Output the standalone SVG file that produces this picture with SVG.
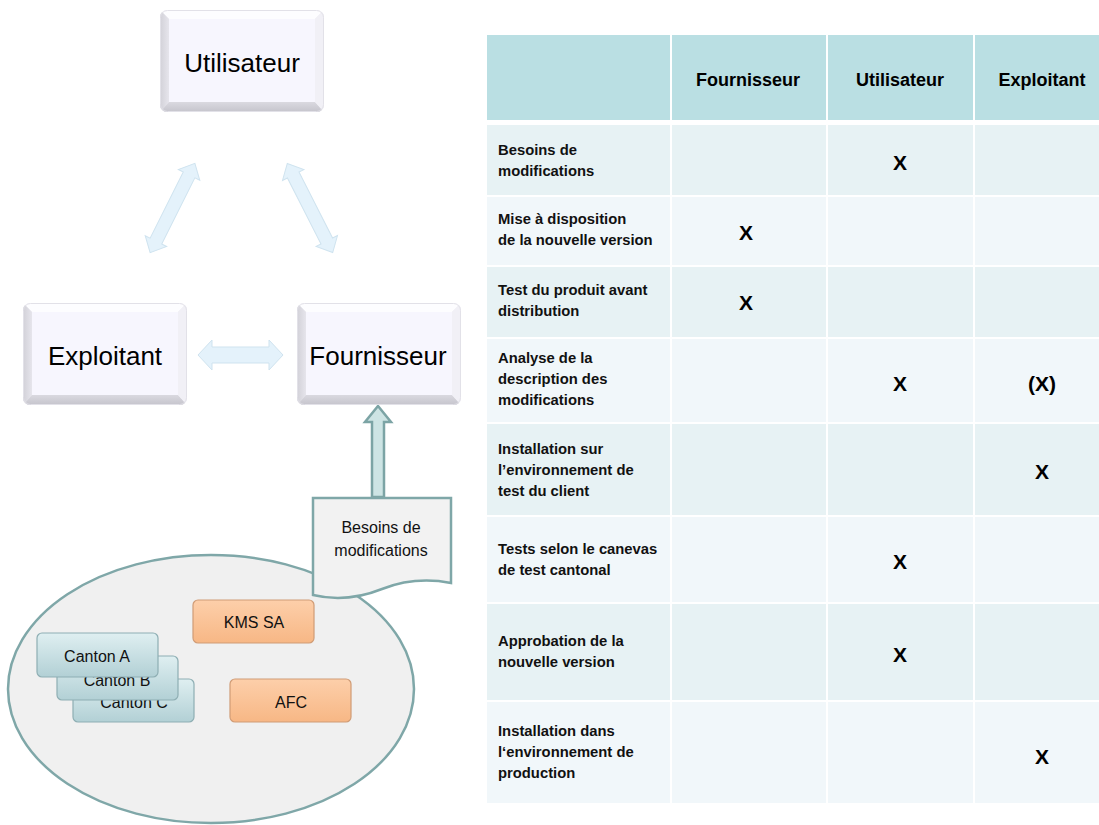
<svg xmlns="http://www.w3.org/2000/svg" xmlns:xlink="http://www.w3.org/1999/xlink" width="1099" height="825" viewBox="0 0 1099 825">
  <style>
    .node-label { font-family: "Liberation Sans", Arial, sans-serif; font-size: 26px; fill: #000; text-anchor: middle; }
    .small-label { font-family: "Liberation Sans", Arial, sans-serif; font-size: 16px; fill: #111; text-anchor: middle; }
    .head { font-family: "Liberation Sans", Arial, sans-serif; font-size: 18px; font-weight: bold; fill: #000; text-anchor: middle; }
    .row-label { font-family: "Liberation Sans", Arial, sans-serif; font-size: 14.8px; font-weight: bold; fill: #111; }
    .mark { font-family: "Liberation Sans", Arial, sans-serif; font-size: 21px; font-weight: bold; fill: #000; text-anchor: middle; }
    .hdr { fill: #BADFE3; }
    .dark { fill: #E7F2F4; }
    .light { fill: #F1F7FA; }
    .link { fill: #E4F2FB; stroke: #CFE3EF; stroke-width: 1; }
    .canton { fill: url(#gCanton); stroke: #8EAEB3; stroke-width: 1.2; }
    .org { fill: url(#gOrange); stroke: #D09C76; stroke-width: 1.2; }
  </style>
  <defs>
    <clipPath id="bevelClip"><rect width="164" height="102" rx="7"/></clipPath>
    <linearGradient id="gLeft" x1="0" y1="0" x2="1" y2="0">
      <stop offset="0" stop-color="#D2D1D8"/>
      <stop offset="1" stop-color="#E6E5EC"/>
    </linearGradient>
    <linearGradient id="gBottom" x1="0" y1="0" x2="0" y2="1">
      <stop offset="0" stop-color="#DAD9E0"/>
      <stop offset="1" stop-color="#C5C4CC"/>
    </linearGradient>
    <linearGradient id="gCanton" x1="0" y1="0" x2="0" y2="1">
      <stop offset="0" stop-color="#DFEFF1"/>
      <stop offset="1" stop-color="#B2D0D5"/>
    </linearGradient>
    <linearGradient id="gOrange" x1="0" y1="0" x2="0" y2="1">
      <stop offset="0" stop-color="#FDCFAA"/>
      <stop offset="1" stop-color="#F7B785"/>
    </linearGradient>
    <!-- bevelled key shape shared by the three role boxes -->
    <g id="bevel">
      <g clip-path="url(#bevelClip)">
        <rect width="164" height="102" fill="#EDECF2"/>
        <polygon points="0,0 164,0 155,9 9,9" fill="#FDFDFF"/>
        <polygon points="0,0 9,9 9,92 0,102" fill="url(#gLeft)"/>
        <polygon points="0,102 9,92 155,92 164,102" fill="url(#gBottom)"/>
        <polygon points="164,0 164,102 155,92 155,9" fill="#F1F0F6"/>
        <rect x="9" y="9" width="146" height="83" fill="#F7F6FE"/>
      </g>
      <rect x="0.5" y="0.5" width="163" height="101" rx="7" fill="none" stroke="#E2E1E8"/>
    </g>
    <!-- double-headed block arrow, centred on the origin, 100 long -->
    <path id="dbl" d="M-50,0 L-37,-12 L-37,-6.5 L37,-6.5 L37,-12 L50,0 L37,12 L37,6.5 L-37,6.5 L-37,12 Z"/>
  </defs>

  <rect width="1099" height="825" fill="#FFFFFF"/>

  <!-- connectors -->
  <g id="connectors">
    <use xlink:href="#dbl" class="link" transform="translate(172.5,208) rotate(-63.4)"/>
    <use xlink:href="#dbl" class="link" transform="translate(310,208) rotate(63)"/>
    <path class="link" d="M198,355 L212,340 L212,347 L269,347 L269,340 L283,355 L269,370 L269,363 L212,363 L212,370 Z"/>
    <path d="M372,497 L372,422 L365,422 L378,406 L391,422 L384,422 L384,497 Z" fill="#CDE4E4" stroke="#7CA4A5" stroke-width="2.5" stroke-linejoin="miter"/>
  </g>

  <!-- role boxes -->
  <g id="node-utilisateur">
    <use xlink:href="#bevel" transform="translate(160,10)"/>
    <text class="node-label" x="242" y="72">Utilisateur</text>
  </g>
  <g id="node-exploitant">
    <use xlink:href="#bevel" transform="translate(23,303)"/>
    <text class="node-label" x="105" y="365">Exploitant</text>
  </g>
  <g id="node-fournisseur">
    <use xlink:href="#bevel" transform="translate(297,303)"/>
    <text class="node-label" x="378" y="365">Fournisseur</text>
  </g>

  <!-- client community -->
  <g id="node-clients">
    <ellipse cx="211" cy="689" rx="203" ry="134" fill="#F0F0F0" stroke="#7FA7A8" stroke-width="2.5"/>
    <g id="node-kms">
      <rect class="org" x="193" y="600" width="121" height="43" rx="5"/>
      <text class="small-label" x="254" y="628">KMS SA</text>
    </g>
    <g id="node-afc">
      <rect class="org" x="230" y="679" width="121" height="43" rx="5"/>
      <text class="small-label" x="291" y="708">AFC</text>
    </g>
    <g id="node-canton-c">
      <rect class="canton" x="73" y="679" width="121" height="43" rx="5"/>
      <text class="small-label" x="134" y="708">Canton C</text>
    </g>
    <g id="node-canton-b">
      <rect class="canton" x="57" y="656" width="121" height="44" rx="5"/>
      <text class="small-label" x="117" y="686">Canton B</text>
    </g>
    <g id="node-canton-a">
      <rect class="canton" x="37" y="633" width="121" height="44" rx="5"/>
      <text class="small-label" x="97" y="662">Canton A</text>
    </g>
  </g>

  <!-- request document -->
  <g id="node-besoins">
    <path d="M313,498 H451 V583 C425,578 400,582 382,589 C362,597 338,601 313,595 Z" fill="#F2F2F2" stroke="#7FA7A8" stroke-width="2.5"/>
    <text class="small-label" x="381" y="533">Besoins de</text>
    <text class="small-label" x="381" y="556">modifications</text>
  </g>

  <!-- responsibility table -->
  <g id="table">
    <rect class="hdr" x="487" y="35" width="183" height="85"/>
    <rect class="hdr" x="672" y="35" width="154" height="85"/>
    <rect class="hdr" x="828" y="35" width="145" height="85"/>
    <rect class="hdr" x="975" y="35" width="124" height="85"/>
    <text class="head" x="748" y="86">Fournisseur</text>
    <text class="head" x="900" y="86">Utilisateur</text>
    <text class="head" x="1042" y="86">Exploitant</text>

    <g class="dark">
      <rect x="487" y="125" width="183" height="70"/><rect x="672" y="125" width="154" height="70"/><rect x="828" y="125" width="145" height="70"/><rect x="975" y="125" width="124" height="70"/>
      <rect x="487" y="267" width="183" height="70"/><rect x="672" y="267" width="154" height="70"/><rect x="828" y="267" width="145" height="70"/><rect x="975" y="267" width="124" height="70"/>
      <rect x="487" y="424" width="183" height="91"/><rect x="672" y="424" width="154" height="91"/><rect x="828" y="424" width="145" height="91"/><rect x="975" y="424" width="124" height="91"/>
      <rect x="487" y="604" width="183" height="96"/><rect x="672" y="604" width="154" height="96"/><rect x="828" y="604" width="145" height="96"/><rect x="975" y="604" width="124" height="96"/>
    </g>
    <g class="light">
      <rect x="487" y="197" width="183" height="68"/><rect x="672" y="197" width="154" height="68"/><rect x="828" y="197" width="145" height="68"/><rect x="975" y="197" width="124" height="68"/>
      <rect x="487" y="339" width="183" height="83"/><rect x="672" y="339" width="154" height="83"/><rect x="828" y="339" width="145" height="83"/><rect x="975" y="339" width="124" height="83"/>
      <rect x="487" y="517" width="183" height="85"/><rect x="672" y="517" width="154" height="85"/><rect x="828" y="517" width="145" height="85"/><rect x="975" y="517" width="124" height="85"/>
      <rect x="487" y="702" width="183" height="101"/><rect x="672" y="702" width="154" height="101"/><rect x="828" y="702" width="145" height="101"/><rect x="975" y="702" width="124" height="101"/>
    </g>

    <text class="row-label" x="498" y="155">Besoins de</text>
    <text class="row-label" x="498" y="176">modifications</text>
    <text class="row-label" x="498" y="224">Mise à disposition</text>
    <text class="row-label" x="498" y="245">de la nouvelle version</text>
    <text class="row-label" x="498" y="295">Test du produit avant</text>
    <text class="row-label" x="498" y="316">distribution</text>
    <text class="row-label" x="498" y="363">Analyse de la</text>
    <text class="row-label" x="498" y="384">description des</text>
    <text class="row-label" x="498" y="405">modifications</text>
    <text class="row-label" x="498" y="454">Installation sur</text>
    <text class="row-label" x="498" y="475">l’environnement de</text>
    <text class="row-label" x="498" y="496">test du client</text>
    <text class="row-label" x="498" y="554">Tests selon le canevas</text>
    <text class="row-label" x="498" y="575">de test cantonal</text>
    <text class="row-label" x="498" y="646">Approbation  de la</text>
    <text class="row-label" x="498" y="667">nouvelle version</text>
    <text class="row-label" x="498" y="736">Installation dans</text>
    <text class="row-label" x="498" y="757">l‘environnement de</text>
    <text class="row-label" x="498" y="778">production</text>

    <text class="mark" x="900" y="170">X</text>
    <text class="mark" x="746" y="240">X</text>
    <text class="mark" x="746" y="310">X</text>
    <text class="mark" x="900" y="391">X</text>
    <text class="mark" x="1042" y="391">(X)</text>
    <text class="mark" x="1042" y="479">X</text>
    <text class="mark" x="900" y="569">X</text>
    <text class="mark" x="900" y="662">X</text>
    <text class="mark" x="1042" y="764">X</text>
  </g>
</svg>
